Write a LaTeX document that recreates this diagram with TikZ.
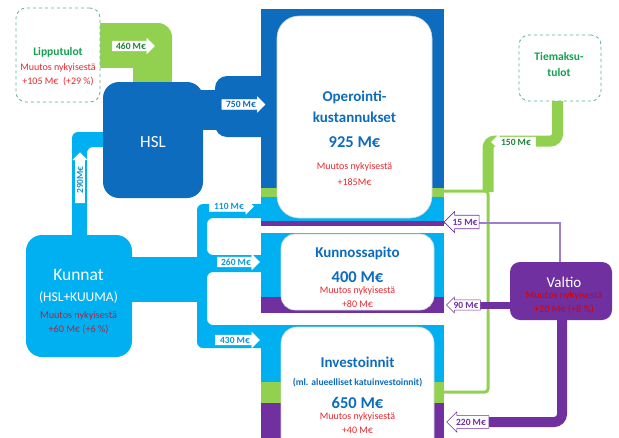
\documentclass[tikz,border=0pt]{standalone}
\usepackage{fontspec}
\setmainfont{Carlito}
\usetikzlibrary{shapes.arrows}
\definecolor{dblue}{RGB}{14,108,190}
\definecolor{lblue}{RGB}{0,176,240}
\definecolor{fgreen}{RGB}{146,208,80}
\definecolor{vpurple}{RGB}{112,48,160}
\definecolor{lpurple}{RGB}{160,125,200}
\definecolor{tred}{RGB}{232,40,46}
\definecolor{kred}{RGB}{176,36,64}
\definecolor{tgreen}{RGB}{20,160,80}
\definecolor{dgreen}{RGB}{30,130,60}
\definecolor{dashgreen}{RGB}{90,180,140}
\definecolor{lbtext}{RGB}{20,150,210}
\newcommand\myfs[1]{\fontsize{#1}{#1}\selectfont}
\begin{document}
\begin{tikzpicture}[x=1pt,y=-1pt,
  flabel/.style={single arrow, fill=white, draw=white, line width=0.6pt, inner sep=1pt,
    font=\myfs{9.5}\bfseries, single arrow head extend=2.5pt, single arrow head indent=0pt,
    minimum width=15pt},
  leftarrow/.style={shape border rotate=180},
  whitebox/.style={fill=white, draw=gray!35, line width=0.6pt, inner sep=0pt},
  dashbox/.style={fill=white, draw=dashgreen, dashed, line width=0.8pt, rounded corners=10pt, inner sep=0pt},
  colbox/.style={inner sep=0pt, rounded corners=16pt},
  boxtitle/.style={inner sep=0pt, text=dblue, font=\myfs{15}\bfseries},
  boxamount/.style={inner sep=0pt, text=dblue, font=\myfs{16.5}\bfseries},
  redtxt/.style={inner sep=0pt, text=tred, font=\myfs{10}},
]
\useasboundingbox (0,0) rectangle (619,437);
\clip (0,0) rectangle (619,437);

% ---------- Lipputulot -> HSL (green) ----------
\fill[fgreen, rounded corners=14pt] (133,23) rectangle (172,90);
\fill[fgreen] (100,23) rectangle (150,68);
\fill[fgreen] (133,50) rectangle (172,90);

% ---------- HSL -> operointi (dark blue) ----------
\fill[dblue] (195,90) rectangle (235,130);
\fill[dblue, rounded corners=12pt] (215,76) rectangle (275,137);

% ---------- Kunnat flows (light blue) ----------
\fill[lblue, rounded corners=6pt] (72,132) -- (110,132) -- (110,147) -- (87,147) -- (87,245) -- (72,245) -- cycle;
\fill[lblue] (125,257) rectangle (202,302);
\fill[lblue, rounded corners=6pt] (270,204) -- (197,204) -- (197,348) -- (270,348) -- (270,325)
  -- (207,325) -- (207,272) -- (270,272) -- (270,255) -- (207,255) -- (207,218) -- (270,218) -- cycle;

% ---------- Operointikustannukset ----------
\fill[dblue] (261,9) rectangle (444,188);
\fill[fgreen] (261,188) rectangle (444,197);
\fill[lblue] (261,197) rectangle (444,221);
\fill[vpurple] (261,221) rectangle (444,226);
\node[whitebox, rounded corners=22pt, minimum width=155pt, minimum height=202pt] (oper) at (354.5,117) {};
\node[boxtitle] (operT1) at (354.5,97) {Operointi-};
\node[boxtitle] (operT2) at (354.5,117) {kustannukset};
\node[boxamount] (operA) at (354.5,142) {925 M€};
\node[redtxt] (operR1) at (354.5,167) {Muutos nykyisestä};
\node[redtxt] (operR2) at (354.5,182) {+185M€};

% ---------- Kunnossapito ----------
\fill[lblue] (261,233) rectangle (444,297);
\fill[vpurple] (261,297) rectangle (444,313);
\node[whitebox, rounded corners=14pt, minimum width=153pt, minimum height=76pt] (kunn) at (357.5,272) {};
\node[boxtitle] (kunnT) at (357.5,253) {Kunnossapito};
\node[boxamount] (kunnA) at (357.5,277) {400 M€};
\node[redtxt] (kunnR1) at (357.5,290.5) {Muutos nykyisestä};
\node[redtxt] (kunnR2) at (357.5,304.5) {+80 M€};

% ---------- Investoinnit ----------
\fill[lblue] (261,325) rectangle (444,382);
\fill[fgreen] (261,382) rectangle (444,403);
\fill[vpurple] (261,403) rectangle (444,440);
\node[whitebox, rounded corners=16pt, minimum width=153pt, minimum height=133pt] (inv) at (357.5,393.5) {};
\node[boxtitle] (invT) at (357.5,362) {Investoinnit};
\node[inner sep=0pt, text=dblue, font=\myfs{9.6}\bfseries] (invT2) at (357.5,383) {(ml. alueelliset katuinvestoinnit)};
\node[boxamount] (invA) at (357.5,403) {650 M€};
\node[redtxt] (invR1) at (357.5,416.5) {Muutos nykyisestä};
\node[redtxt] (invR2) at (357.5,430.5) {+40 M€};

% ---------- HSL ----------
\node[colbox, fill=dblue, minimum width=100pt, minimum height=116pt] (hsl) at (153,140) {};
\node[inner sep=0pt, text=white, font=\myfs{17}] (hslT) at (153,142) {HSL};

% ---------- Kunnat ----------
\node[colbox, fill=lblue, minimum width=106pt, minimum height=122pt] (kunnat) at (79,296) {};
\node[inner sep=0pt, text=white, font=\myfs{17.5}] (kunnatT1) at (78.5,275) {Kunnat};
\node[inner sep=0pt, text=white, font=\myfs{13.5}] (kunnatT2) at (78.5,297) {(HSL+KUUMA)};
\node[inner sep=0pt, text=kred, font=\myfs{10.2}] (kunnatR1) at (78.5,316) {Muutos nykyisestä};
\node[inner sep=0pt, text=kred, font=\myfs{10.2}] (kunnatR2) at (78.5,329.5) {+60 M€ (+6 \%)};

% ---------- Lipputulot ----------
\node[dashbox, minimum width=84pt, minimum height=94pt] (lipp) at (58,55) {};
\node[inner sep=0pt, text=tgreen, font=\myfs{11.5}\bfseries] (lippT) at (58,52) {Lipputulot};
\node[redtxt] (lippR1) at (58,68) {Muutos nykyisestä};
\node[redtxt] (lippR2) at (58,82) {+105 M€\ \ (+29 \%)};

% ---------- Tiemaksutulot ----------
\node[dashbox, minimum width=82pt, minimum height=66pt] (tiem) at (560,68) {};
\node[inner sep=0pt, text=tgreen, font=\myfs{11.5}\bfseries] (tiemT1) at (559,57) {Tiemaksu-};
\node[inner sep=0pt, text=tgreen, font=\myfs{11.5}\bfseries] (tiemT2) at (559,72.5) {tulot};

% green flow from Tiemaksutulot
\coordinate (g0) at (557.5,101);
\coordinate (g1) at (557.5,141);
\coordinate (g2) at (488,141);
\coordinate (g3) at (488,192);
\coordinate (gop) at (444,191);
\coordinate (ginv) at (444,392);
\draw[fgreen, line width=11pt, rounded corners=7pt] (g0) -- (g1) -- (g2) -- (g3);
\draw[fgreen, line width=3pt, rounded corners=3pt] (gop) -- (488,191) -- (488,392) -- (ginv);

% ---------- Valtio ----------
\coordinate (p15a) at (560,262);
\coordinate (p15b) at (560,223);
\coordinate (p15c) at (444,223);
\draw[lpurple, line width=1.5pt] (p15a) -- (p15b) -- (p15c);
\coordinate (p90a) at (512,305);
\coordinate (p90b) at (470,305);
\draw[vpurple, line width=7pt] (p90a) -- (p90b);
\coordinate (p220a) at (562,318);
\coordinate (p220b) at (562,422);
\coordinate (p220c) at (470,422);
\draw[vpurple, line width=10pt, rounded corners=8pt] (p220a) -- (p220b) -- (p220c);
\node[colbox, rounded corners=10pt, fill=vpurple, minimum width=102pt, minimum height=58pt] (valtio) at (561,291) {};
\node[inner sep=0pt, text=white, font=\myfs{15}] (valtioT) at (564,282) {Valtio};
\node[inner sep=0pt, text=red!85!black, font=\myfs{10.2}] (valtioR1) at (564,295.5) {Muutos nykyisestä};
\node[inner sep=0pt, text=red!85!black, font=\myfs{10.2}] (valtioR2) at (564,309) {+20 M€ (+8 \%)};

% ---------- flow labels ----------
\node[flabel, text=dgreen, minimum height=42pt] (l460) at (131,46) {460 M€};
\node[flabel, text=dblue, minimum height=43pt] (l750) at (241,104.5) {750 M€};
\node[flabel, text=lbtext, minimum height=44pt] (l110) at (229,206.5) {110 M€};
\node[flabel, text=lbtext, minimum height=42pt] (l260) at (236,262) {260 M€};
\node[flabel, text=lbtext, minimum height=44pt] (l430) at (235,340) {430 M€};
\node[flabel, text=lbtext, minimum height=50pt, minimum width=14pt, rotate=90] (l290) at (80,180) {290M€};
\node[flabel, leftarrow, text=dgreen, minimum height=44pt] (l150) at (516,142) {150 M€};
\node[flabel, leftarrow, draw=vpurple, text=vpurple, minimum height=35pt, minimum width=21pt] (l15) at (465,222) {15 M€};
\node[flabel, leftarrow, draw=vpurple, text=vpurple, minimum height=34pt, minimum width=16pt] (l90) at (466,305) {90 M€};
\node[flabel, leftarrow, draw=vpurple, text=vpurple, minimum height=42pt, minimum width=20pt] (l220) at (471,422) {220 M€};
\end{tikzpicture}
\end{document}
